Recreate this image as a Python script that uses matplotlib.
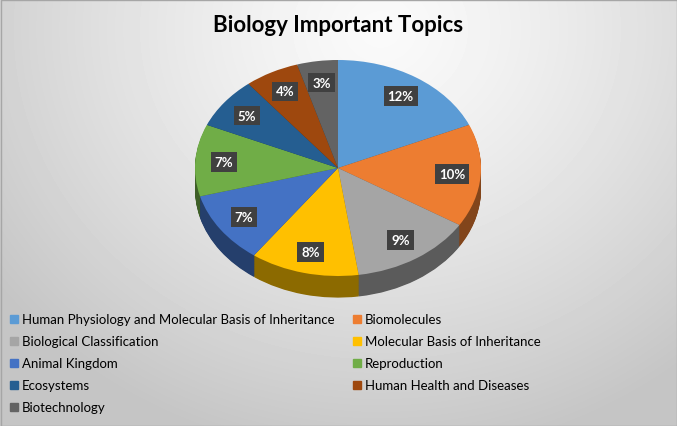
import numpy as np
import matplotlib.pyplot as plt
from matplotlib.colors import to_rgb
from matplotlib.patches import Rectangle

topics = [
    "Human Physiology and Molecular Basis of Inheritance",
    "Biomolecules",
    "Biological Classification",
    "Molecular Basis of Inheritance",
    "Animal Kingdom",
    "Reproduction",
    "Ecosystems",
    "Human Health and Diseases",
    "Biotechnology",
]
shares = [12, 10, 9, 8, 7, 7, 5, 4, 3]
colors = ["#5B9BD5", "#ED7D31", "#A5A5A5", "#FFC000", "#4472C4",
          "#70AD47", "#255E91", "#9E480E", "#636363"]

plt.rcParams["font.family"] = ["Lato", "DejaVu Sans"]

W, H = 677, 427
fig = plt.figure(figsize=(W / 100, H / 100), dpi=100)

# background: soft radial gradient like the Excel chart style
bg = fig.add_axes([0, 0, 1, 1])
yy, xx = np.mgrid[0:H, 0:W]
d = np.hypot((xx - 380) / 1.0, (yy - 30) / 0.9)
shade = 0.98 - 0.21 * np.clip(d / 480, 0, 1) ** 1.3
bg.imshow(shade, cmap="gray", vmin=0, vmax=1, extent=[0, W, H, 0], aspect="auto")
bg.add_patch(Rectangle((0.5, 0.5), W - 1, H - 1, fill=False, ec="#A6A6A6", lw=1))
bg.set_xlim(0, W)
bg.set_ylim(H, 0)
bg.axis("off")

# pie axes: 1 unit = 143 px horizontally, 108 px vertically
rx, ry = 143, 108
cx, cy = 338, 169
x0, x1 = -1.3, 1.3
y0, y1 = -1.5, 1.05
left = (cx + x0 * rx) / W
width = (x1 - x0) * rx / W
bottom = (H - (cy - y0 * ry)) / H
height = (y1 - y0) * ry / H
ax = fig.add_axes([left, bottom, width, height])

depth = 0.2
side_colors = [tuple(c * 0.55 for c in to_rgb(col)) for col in colors]
for k in np.linspace(depth, 0.01, 30):
    ax.pie(shares, colors=side_colors, startangle=90, counterclock=False,
           center=(0, -k), radius=1, frame=True,
           wedgeprops=dict(linewidth=0))

total = sum(shares)
wedges, texts, autotexts = ax.pie(
    shares, colors=colors, startangle=90, counterclock=False,
    center=(0, 0), radius=1, frame=True,
    autopct=lambda p: f"{round(p * total / 100)}%",
    pctdistance=0.8,
    wedgeprops=dict(linewidth=0),
)
ax.set_aspect("auto")
ax.set_xlim(x0, x1)
ax.set_ylim(y0, y1)
ax.axis("off")
for t in autotexts:
    t.set_color("white")
    t.set_fontweight("bold")
    t.set_fontsize(9.5)
    t.set_bbox(dict(boxstyle="square,pad=0.3", fc="#404040", ec="none"))

fig.text(0.5, 1 - 26 / H, "Biology Important Topics", ha="center", va="center",
         fontsize=16, fontweight="bold", color="black")

# legend in two columns
rows = [320, 342, 364, 386, 408]
cols = [10, 353]
for i, (name, col) in enumerate(zip(topics, colors)):
    x = cols[i % 2]
    y = rows[i // 2]
    bg.add_patch(Rectangle((x, y - 4), 8, 8, color=col))
    bg.text(x + 12, y, name, va="center", ha="left", fontsize=9.5, color="black")

fig.savefig("out.png", dpi=100)
